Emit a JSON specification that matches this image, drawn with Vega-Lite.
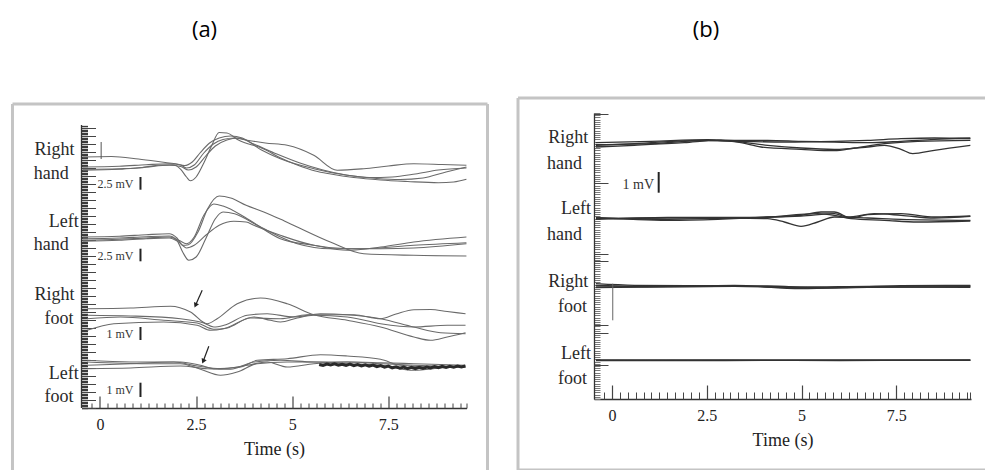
{
"$schema": "https://vega.github.io/schema/vega-lite/v6.json",
"background": "white",
"padding": {"left": 10.5, "top": 18, "right": 0, "bottom": 0},
"spacing": 26.5,
"datasets": {
"tracesA": [
{"tr":"RH1","t":-0.45,"v":238.7},{"tr":"RH1","t":0.5,"v":239.3},{"tr":"RH1","t":1.0,"v":240},{"tr":"RH1","t":1.5,"v":242.7},{"tr":"RH1","t":1.9,"v":243.3},{"tr":"RH1","t":2.1,"v":238.7},{"tr":"RH1","t":2.25,"v":231},{"tr":"RH1","t":2.35,"v":227.3},{"tr":"RH1","t":2.5,"v":231},{"tr":"RH1","t":2.7,"v":245},{"tr":"RH1","t":2.9,"v":262},{"tr":"RH1","t":3.1,"v":275.5},{"tr":"RH1","t":3.3,"v":275},{"tr":"RH1","t":3.6,"v":268},{"tr":"RH1","t":4.26,"v":259},{"tr":"RH1","t":4.7,"v":250},{"tr":"RH1","t":5.13,"v":243},{"tr":"RH1","t":5.6,"v":237},{"tr":"RH1","t":6.0,"v":234},{"tr":"RH1","t":6.6,"v":230.5},{"tr":"RH1","t":7.3,"v":228},{"tr":"RH1","t":8.0,"v":226.5},{"tr":"RH1","t":8.8,"v":225.3},{"tr":"RH1","t":9.2,"v":226},{"tr":"RH1","t":9.53,"v":228.7},
{"tr":"RH2","t":-0.45,"v":251},{"tr":"RH2","t":0.3,"v":251.5},{"tr":"RH2","t":1.0,"v":249},{"tr":"RH2","t":1.7,"v":245.5},{"tr":"RH2","t":2.0,"v":244},{"tr":"RH2","t":2.2,"v":242.5},{"tr":"RH2","t":2.4,"v":246},{"tr":"RH2","t":2.6,"v":255},{"tr":"RH2","t":2.85,"v":265},{"tr":"RH2","t":3.1,"v":270},{"tr":"RH2","t":3.4,"v":272},{"tr":"RH2","t":3.7,"v":270},{"tr":"RH2","t":4.2,"v":258},{"tr":"RH2","t":4.69,"v":249.3},{"tr":"RH2","t":5.56,"v":239.3},{"tr":"RH2","t":6.43,"v":232.7},{"tr":"RH2","t":7.2,"v":229.5},{"tr":"RH2","t":7.8,"v":228.5},{"tr":"RH2","t":8.4,"v":230},{"tr":"RH2","t":9.0,"v":236},{"tr":"RH2","t":9.53,"v":241},
{"tr":"RH3","t":-0.45,"v":241},{"tr":"RH3","t":0.5,"v":241.7},{"tr":"RH3","t":1.2,"v":243.3},{"tr":"RH3","t":1.8,"v":244.3},{"tr":"RH3","t":2.1,"v":243},{"tr":"RH3","t":2.25,"v":240},{"tr":"RH3","t":2.45,"v":243},{"tr":"RH3","t":2.7,"v":255},{"tr":"RH3","t":2.95,"v":264},{"tr":"RH3","t":3.2,"v":268.5},{"tr":"RH3","t":3.5,"v":270},{"tr":"RH3","t":3.8,"v":268},{"tr":"RH3","t":4.3,"v":265},{"tr":"RH3","t":4.87,"v":262.7},{"tr":"RH3","t":5.56,"v":252.7},{"tr":"RH3","t":6.17,"v":237.7},{"tr":"RH3","t":6.86,"v":239.3},{"tr":"RH3","t":7.5,"v":242},{"tr":"RH3","t":8.16,"v":244.3},{"tr":"RH3","t":8.9,"v":243.5},{"tr":"RH3","t":9.53,"v":242.7},
{"tr":"RH4","t":-0.45,"v":237.7},{"tr":"RH4","t":0.5,"v":238.7},{"tr":"RH4","t":1.2,"v":241},{"tr":"RH4","t":1.8,"v":242.7},{"tr":"RH4","t":2.1,"v":241.5},{"tr":"RH4","t":2.3,"v":238},{"tr":"RH4","t":2.5,"v":241},{"tr":"RH4","t":2.75,"v":252},{"tr":"RH4","t":3.0,"v":262},{"tr":"RH4","t":3.3,"v":268},{"tr":"RH4","t":3.6,"v":270},{"tr":"RH4","t":4.0,"v":264},{"tr":"RH4","t":4.6,"v":254},{"tr":"RH4","t":5.2,"v":245},{"tr":"RH4","t":5.8,"v":238},{"tr":"RH4","t":6.4,"v":233},{"tr":"RH4","t":7.0,"v":230.5},{"tr":"RH4","t":7.6,"v":231},{"tr":"RH4","t":8.2,"v":234},{"tr":"RH4","t":8.8,"v":238},{"tr":"RH4","t":9.53,"v":240},
{"tr":"LH1","t":-0.45,"v":171},{"tr":"LH1","t":0.5,"v":171.7},{"tr":"LH1","t":1.2,"v":173.3},{"tr":"LH1","t":1.8,"v":174.3},{"tr":"LH1","t":2.0,"v":170},{"tr":"LH1","t":2.15,"v":162.7},{"tr":"LH1","t":2.3,"v":163.3},{"tr":"LH1","t":2.55,"v":176},{"tr":"LH1","t":2.8,"v":199.3},{"tr":"LH1","t":3.1,"v":212},{"tr":"LH1","t":3.4,"v":210},{"tr":"LH1","t":3.8,"v":202.7},{"tr":"LH1","t":4.26,"v":196},{"tr":"LH1","t":4.7,"v":188.7},{"tr":"LH1","t":5.13,"v":181},{"tr":"LH1","t":5.99,"v":166},{"tr":"LH1","t":6.86,"v":154.3},{"tr":"LH1","t":8.16,"v":152.7},{"tr":"LH1","t":9.53,"v":152},
{"tr":"LH2","t":-0.45,"v":167.7},{"tr":"LH2","t":0.5,"v":168.7},{"tr":"LH2","t":1.2,"v":170},{"tr":"LH2","t":1.8,"v":171},{"tr":"LH2","t":2.05,"v":167.7},{"tr":"LH2","t":2.25,"v":164.3},{"tr":"LH2","t":2.45,"v":171},{"tr":"LH2","t":2.7,"v":192.7},{"tr":"LH2","t":2.96,"v":204},{"tr":"LH2","t":3.2,"v":202},{"tr":"LH2","t":3.83,"v":189.3},{"tr":"LH2","t":4.69,"v":169.3},{"tr":"LH2","t":5.56,"v":162.7},{"tr":"LH2","t":6.43,"v":157.7},{"tr":"LH2","t":7.3,"v":161},{"tr":"LH2","t":8.16,"v":166},{"tr":"LH2","t":9.53,"v":171},
{"tr":"LH3","t":-0.45,"v":169.3},{"tr":"LH3","t":0.5,"v":170},{"tr":"LH3","t":1.2,"v":171.3},{"tr":"LH3","t":1.8,"v":172},{"tr":"LH3","t":2.0,"v":167.7},{"tr":"LH3","t":2.15,"v":156},{"tr":"LH3","t":2.31,"v":147.7},{"tr":"LH3","t":2.5,"v":151},{"tr":"LH3","t":2.75,"v":169.3},{"tr":"LH3","t":3.0,"v":189.3},{"tr":"LH3","t":3.2,"v":196},{"tr":"LH3","t":3.5,"v":194.3},{"tr":"LH3","t":4.09,"v":182.7},{"tr":"LH3","t":5.13,"v":164.3},{"tr":"LH3","t":5.99,"v":159.3},{"tr":"LH3","t":6.86,"v":159.3},{"tr":"LH3","t":8.16,"v":162.7},{"tr":"LH3","t":9.53,"v":165.3},
{"tr":"LH4","t":-0.45,"v":166.7},{"tr":"LH4","t":0.5,"v":167.7},{"tr":"LH4","t":1.2,"v":169.3},{"tr":"LH4","t":1.8,"v":170},{"tr":"LH4","t":2.05,"v":166},{"tr":"LH4","t":2.25,"v":160},{"tr":"LH4","t":2.45,"v":162.7},{"tr":"LH4","t":2.75,"v":172.7},{"tr":"LH4","t":3.1,"v":182.7},{"tr":"LH4","t":3.48,"v":186.7},{"tr":"LH4","t":3.8,"v":186},{"tr":"LH4","t":4.0,"v":182.7},{"tr":"LH4","t":4.69,"v":172.7},{"tr":"LH4","t":5.56,"v":162.7},{"tr":"LH4","t":6.43,"v":159.3},{"tr":"LH4","t":7.3,"v":159.3},{"tr":"LH4","t":8.16,"v":160},{"tr":"LH4","t":9.53,"v":164.3},
{"tr":"RF1","t":-0.334,"v":99.3},{"tr":"RF1","t":0.793,"v":100},{"tr":"RF1","t":1.834,"v":101.7},{"tr":"RF1","t":2.354,"v":96},{"tr":"RF1","t":2.787,"v":84.3},{"tr":"RF1","t":3.047,"v":89.3},{"tr":"RF1","t":3.568,"v":104.3},{"tr":"RF1","t":4.174,"v":110},{"tr":"RF1","t":4.868,"v":104.3},{"tr":"RF1","t":5.561,"v":93.3},{"tr":"RF1","t":6.43,"v":87.7},{"tr":"RF1","t":7.296,"v":81},{"tr":"RF1","t":8.163,"v":71},{"tr":"RF1","t":8.597,"v":67.7},{"tr":"RF1","t":9.03,"v":71},{"tr":"RF1","t":9.507,"v":75.3},
{"tr":"RF2","t":-0.334,"v":92.7},{"tr":"RF2","t":0.793,"v":92},{"tr":"RF2","t":2.093,"v":89.3},{"tr":"RF2","t":2.7,"v":85},{"tr":"RF2","t":2.96,"v":81},{"tr":"RF2","t":3.221,"v":82.7},{"tr":"RF2","t":3.827,"v":92.7},{"tr":"RF2","t":4.348,"v":94.3},{"tr":"RF2","t":5.041,"v":91},{"tr":"RF2","t":5.735,"v":94.3},{"tr":"RF2","t":6.43,"v":93.3},{"tr":"RF2","t":7.296,"v":89.3},{"tr":"RF2","t":8.163,"v":81},{"tr":"RF2","t":8.857,"v":75.3},{"tr":"RF2","t":9.507,"v":74.3},
{"tr":"RF3","t":-0.334,"v":89.3},{"tr":"RF3","t":0.533,"v":91},{"tr":"RF3","t":1.66,"v":87.7},{"tr":"RF3","t":2.527,"v":85},{"tr":"RF3","t":2.96,"v":78.7},{"tr":"RF3","t":3.307,"v":80},{"tr":"RF3","t":3.914,"v":90},{"tr":"RF3","t":4.694,"v":89.3},{"tr":"RF3","t":5.388,"v":93.3},{"tr":"RF3","t":5.995,"v":93.3},{"tr":"RF3","t":6.603,"v":93.3},{"tr":"RF3","t":7.296,"v":89.3},{"tr":"RF3","t":7.7,"v":94},{"tr":"RF3","t":8.163,"v":98.3},{"tr":"RF3","t":8.6,"v":98.5},{"tr":"RF3","t":9.03,"v":96.5},{"tr":"RF3","t":9.507,"v":94.3},
{"tr":"RF4","t":-0.334,"v":77.7},{"tr":"RF4","t":0.36,"v":84.3},{"tr":"RF4","t":1.66,"v":86},{"tr":"RF4","t":2.527,"v":82.7},{"tr":"RF4","t":2.874,"v":77.7},{"tr":"RF4","t":3.221,"v":79.3},{"tr":"RF4","t":4.0,"v":91},{"tr":"RF4","t":4.434,"v":87.7},{"tr":"RF4","t":4.694,"v":86},{"tr":"RF4","t":5.128,"v":90},{"tr":"RF4","t":5.561,"v":92.7},{"tr":"RF4","t":6.43,"v":91},{"tr":"RF4","t":7.296,"v":84.3},{"tr":"RF4","t":8.163,"v":81},{"tr":"RF4","t":9.03,"v":82.7},{"tr":"RF4","t":9.507,"v":82.7},
{"tr":"LF1","t":-0.334,"v":47.7},{"tr":"LF1","t":0.793,"v":46},{"tr":"LF1","t":2.093,"v":46},{"tr":"LF1","t":2.614,"v":42.7},{"tr":"LF1","t":2.96,"v":39.3},{"tr":"LF1","t":3.654,"v":41},{"tr":"LF1","t":4.088,"v":47.7},{"tr":"LF1","t":4.868,"v":49.3},{"tr":"LF1","t":5.735,"v":53.3},{"tr":"LF1","t":6.43,"v":52},{"tr":"LF1","t":7.296,"v":48.7},{"tr":"LF1","t":7.816,"v":42.7},{"tr":"LF1","t":8.597,"v":41},{"tr":"LF1","t":9.507,"v":41},
{"tr":"LF2","t":-0.334,"v":46},{"tr":"LF2","t":1.226,"v":44.3},{"tr":"LF2","t":2.093,"v":44.3},{"tr":"LF2","t":2.614,"v":38.7},{"tr":"LF2","t":3.134,"v":32.7},{"tr":"LF2","t":3.568,"v":36},{"tr":"LF2","t":4.088,"v":44.3},{"tr":"LF2","t":4.868,"v":46},{"tr":"LF2","t":5.561,"v":46},{"tr":"LF2","t":6.43,"v":44.3},{"tr":"LF2","t":7.296,"v":42.7},{"tr":"LF2","t":8.163,"v":37.7},{"tr":"LF2","t":8.857,"v":40},{"tr":"LF2","t":9.507,"v":42},
{"tr":"LF3","t":-0.334,"v":42.7},{"tr":"LF3","t":0.793,"v":44.3},{"tr":"LF3","t":1.92,"v":46},{"tr":"LF3","t":2.527,"v":42},{"tr":"LF3","t":3.134,"v":39.3},{"tr":"LF3","t":3.827,"v":42.7},{"tr":"LF3","t":4.348,"v":46},{"tr":"LF3","t":4.868,"v":41},{"tr":"LF3","t":5.561,"v":44.3},{"tr":"LF3","t":6.43,"v":46},{"tr":"LF3","t":7.296,"v":44.3},{"tr":"LF3","t":8.163,"v":42.7},{"tr":"LF3","t":9.507,"v":41},
{"tr":"LF4","t":-0.334,"v":39.3},{"tr":"LF4","t":0.793,"v":40},{"tr":"LF4","t":2.093,"v":42},{"tr":"LF4","t":2.787,"v":39.3},{"tr":"LF4","t":3.394,"v":38.7},{"tr":"LF4","t":4.0,"v":46},{"tr":"LF4","t":4.694,"v":47.7},{"tr":"LF4","t":5.561,"v":46},{"tr":"LF4","t":6.43,"v":46},{"tr":"LF4","t":7.296,"v":45.3},{"tr":"LF4","t":8.163,"v":44.3},{"tr":"LF4","t":9.507,"v":42.7}
],
"noiseA": [
{"t":5.7,"v":43.5},{"t":5.8,"v":42.5},{"t":5.9,"v":44},{"t":6.0,"v":43},{"t":6.1,"v":44.2},{"t":6.2,"v":42.8},{"t":6.3,"v":43.8},{"t":6.4,"v":42.6},{"t":6.5,"v":43.9},{"t":6.6,"v":42.4},{"t":6.7,"v":43.5},{"t":6.8,"v":42},{"t":6.9,"v":43.2},{"t":7.0,"v":41.8},{"t":7.1,"v":42.9},{"t":7.2,"v":41.3},{"t":7.3,"v":42.4},{"t":7.4,"v":40.8},{"t":7.5,"v":41.9},{"t":7.6,"v":40.2},{"t":7.7,"v":41.2},{"t":7.8,"v":39.8},{"t":7.9,"v":40.9},{"t":8.0,"v":39.4},{"t":8.1,"v":40.6},{"t":8.2,"v":39.3},{"t":8.3,"v":40.7},{"t":8.4,"v":39.6},{"t":8.5,"v":41},{"t":8.6,"v":40},{"t":8.7,"v":41.4},{"t":8.8,"v":40.3},{"t":8.9,"v":41.6},{"t":9.0,"v":40.6},{"t":9.1,"v":41.8},{"t":9.2,"v":40.9},{"t":9.3,"v":42},{"t":9.4,"v":41},{"t":9.5,"v":42}
],
"tracesB": [
{"tr":"RH1","t":-0.422,"v":253.7},{"tr":"RH1","t":0.589,"v":255.3},{"tr":"RH1","t":2.348,"v":258.7},{"tr":"RH1","t":3.228,"v":257.7},{"tr":"RH1","t":4.107,"v":253.7},{"tr":"RH1","t":4.987,"v":251},{"tr":"RH1","t":5.866,"v":249.7},{"tr":"RH1","t":6.746,"v":252},{"tr":"RH1","t":7.185,"v":253.7},{"tr":"RH1","t":7.625,"v":249.7},{"tr":"RH1","t":7.933,"v":245.3},{"tr":"RH1","t":8.505,"v":248.7},{"tr":"RH1","t":9.455,"v":253.7},
{"tr":"RH2","t":-0.422,"v":256.3},{"tr":"RH2","t":1.029,"v":257.7},{"tr":"RH2","t":2.524,"v":259.3},{"tr":"RH2","t":3.228,"v":258.7},{"tr":"RH2","t":4.107,"v":258.7},{"tr":"RH2","t":4.987,"v":257.7},{"tr":"RH2","t":5.866,"v":257},{"tr":"RH2","t":6.746,"v":256.3},{"tr":"RH2","t":7.625,"v":257.7},{"tr":"RH2","t":8.505,"v":259.7},{"tr":"RH2","t":9.455,"v":261},
{"tr":"RH3","t":-0.422,"v":254.3},{"tr":"RH3","t":1.029,"v":255.3},{"tr":"RH3","t":2.524,"v":258.7},{"tr":"RH3","t":3.404,"v":257.7},{"tr":"RH3","t":4.547,"v":257},{"tr":"RH3","t":5.866,"v":257.7},{"tr":"RH3","t":6.746,"v":258.7},{"tr":"RH3","t":7.625,"v":260.3},{"tr":"RH3","t":8.505,"v":261},{"tr":"RH3","t":9.455,"v":260.3},
{"tr":"RH4","t":-0.422,"v":252},{"tr":"RH4","t":0.589,"v":253.7},{"tr":"RH4","t":1.908,"v":256.3},{"tr":"RH4","t":2.788,"v":258.7},{"tr":"RH4","t":3.404,"v":256.3},{"tr":"RH4","t":3.931,"v":252},{"tr":"RH4","t":4.987,"v":249.7},{"tr":"RH4","t":5.866,"v":248.3},{"tr":"RH4","t":6.394,"v":251},{"tr":"RH4","t":7.185,"v":255.3},{"tr":"RH4","t":8.065,"v":257.7},{"tr":"RH4","t":9.455,"v":258.7},
{"tr":"LH1","t":-0.422,"v":181},{"tr":"LH1","t":1.469,"v":179.7},{"tr":"LH1","t":3.228,"v":181},{"tr":"LH1","t":4.107,"v":180.3},{"tr":"LH1","t":4.547,"v":177},{"tr":"LH1","t":4.987,"v":172.7},{"tr":"LH1","t":5.427,"v":177},{"tr":"LH1","t":5.866,"v":182},{"tr":"LH1","t":6.746,"v":181},{"tr":"LH1","t":7.625,"v":179.7},{"tr":"LH1","t":9.455,"v":178.7},
{"tr":"LH2","t":-0.422,"v":180.3},{"tr":"LH2","t":1.469,"v":181},{"tr":"LH2","t":3.228,"v":181},{"tr":"LH2","t":4.987,"v":183.7},{"tr":"LH2","t":5.515,"v":187},{"tr":"LH2","t":5.866,"v":187},{"tr":"LH2","t":6.306,"v":181},{"tr":"LH2","t":6.746,"v":184.3},{"tr":"LH2","t":7.625,"v":185.3},{"tr":"LH2","t":8.505,"v":182},{"tr":"LH2","t":9.455,"v":183},
{"tr":"LH3","t":-0.422,"v":181.7},{"tr":"LH3","t":1.469,"v":178.7},{"tr":"LH3","t":2.788,"v":179.7},{"tr":"LH3","t":4.107,"v":182},{"tr":"LH3","t":5.427,"v":185.3},{"tr":"LH3","t":5.866,"v":183.7},{"tr":"LH3","t":6.306,"v":180.3},{"tr":"LH3","t":7.185,"v":178.7},{"tr":"LH3","t":8.065,"v":177},{"tr":"LH3","t":9.455,"v":178},
{"tr":"LH4","t":-0.422,"v":179.7},{"tr":"LH4","t":1.469,"v":181.7},{"tr":"LH4","t":3.228,"v":181.7},{"tr":"LH4","t":4.987,"v":183},{"tr":"LH4","t":5.866,"v":185.3},{"tr":"LH4","t":6.218,"v":182},{"tr":"LH4","t":6.922,"v":185.3},{"tr":"LH4","t":7.625,"v":183.7},{"tr":"LH4","t":8.505,"v":181},{"tr":"LH4","t":9.455,"v":182.7},
{"tr":"RF1","t":-0.422,"v":115.3},{"tr":"RF1","t":0.589,"v":113.7},{"tr":"RF1","t":3.228,"v":113},{"tr":"RF1","t":4.987,"v":112},{"tr":"RF1","t":6.746,"v":112.7},{"tr":"RF1","t":9.455,"v":113},
{"tr":"RF2","t":-0.422,"v":112},{"tr":"RF2","t":1.469,"v":112.7},{"tr":"RF2","t":3.228,"v":113.7},{"tr":"RF2","t":4.987,"v":110.3},{"tr":"RF2","t":6.746,"v":111.7},{"tr":"RF2","t":9.455,"v":112.3},
{"tr":"RF3","t":-0.422,"v":113.7},{"tr":"RF3","t":1.469,"v":112.3},{"tr":"RF3","t":4.107,"v":113},{"tr":"RF3","t":5.427,"v":111},{"tr":"RF3","t":7.625,"v":113.3},{"tr":"RF3","t":9.455,"v":113.7},
{"tr":"RF4","t":-0.422,"v":111.3},{"tr":"RF4","t":1.029,"v":112},{"tr":"RF4","t":3.228,"v":112.7},{"tr":"RF4","t":4.987,"v":111.3},{"tr":"RF4","t":7.185,"v":112},{"tr":"RF4","t":9.455,"v":111.7},
{"tr":"LF1","t":-0.422,"v":38.7},{"tr":"LF1","t":3.0,"v":38.9},{"tr":"LF1","t":6.0,"v":38.5},{"tr":"LF1","t":9.455,"v":39},
{"tr":"LF2","t":-0.422,"v":38.3},{"tr":"LF2","t":3.0,"v":38.5},{"tr":"LF2","t":6.0,"v":38.9},{"tr":"LF2","t":9.455,"v":38.6},
{"tr":"LF3","t":-0.422,"v":39.2},{"tr":"LF3","t":4.5,"v":38.8},{"tr":"LF3","t":9.455,"v":38.9}
],
"labelsA": [
{"t":-0.663,"v":258,"txt":"Right"},{"t":-0.811,"v":234.3,"txt":"hand"},{"t":-0.551,"v":186,"txt":"Left"},{"t":-0.811,"v":163,"txt":"hand"},{"t":-0.663,"v":113.3,"txt":"Right"},{"t":-0.689,"v":89.3,"txt":"foot"},{"t":-0.551,"v":34.3,"txt":"Left"},{"t":-0.689,"v":11,"txt":"foot"}
],
"labelsB": [
{"t":-0.625,"v":261,"txt":"Right"},{"t":-0.792,"v":235.3,"txt":"hand"},{"t":-0.554,"v":189.7,"txt":"Left"},{"t":-0.792,"v":164.3,"txt":"hand"},{"t":-0.625,"v":117,"txt":"Right"},{"t":-0.66,"v":92,"txt":"foot"},{"t":-0.554,"v":45.3,"txt":"Left"},{"t":-0.66,"v":20.3,"txt":"foot"}
],
"barsA": [
{"t":1.053,"v1":231,"v2":218.3},{"t":1.053,"v1":159.3,"v2":146.7},{"t":1.053,"v1":81,"v2":68},{"t":1.053,"v1":25.3,"v2":11}
],
"barTextA": [
{"t":0.87,"v":224.3,"txt":"2.5 mV"},{"t":0.87,"v":152,"txt":"2.5 mV"},{"t":0.87,"v":74.3,"txt":"1 mV"},{"t":0.87,"v":18,"txt":"1 mV"}
],
"barsB": [{"t":1.232,"v1":227,"v2":206.3}],
"barTextB": [{"t":1.108,"v":214.3,"txt":"1 mV"}],
"stimA": [{"t":0.03,"v1":266,"v2":249}],
"stimB": [{"t":0.02,"v1":115.3,"v2":78.7}],
"yaxisA": [{"t":-0.481,"v1":0,"v2":283}],
"arrowsA": [{"tt":2.658,"tv":117.7,"ht":2.484,"hv":102.7},{"tt":2.83,"tv":61.7,"ht":2.684,"hv":46.7}],
"frameA": [
{"t1":-2.276,"t2":-2.276,"v1":-64,"v2":304},{"t1":-2.276,"t2":10.078,"v1":304,"v2":304},{"t1":10.078,"t2":10.078,"v1":-64,"v2":304}
],
"frameB": [
{"t1":-2.48,"t2":-2.48,"v1":-71,"v2":301},{"t1":-2.48,"t2":9.855,"v1":301,"v2":301},{"t1":-2.48,"t2":9.855,"v1":-71,"v2":-71}
]
},
"hconcat": [
{
"width": 385, "height": 295,
"title": {"text": "(a)", "frame": "group", "anchor": "middle", "dx": -69.5, "offset": 61},
"resolve": {"axis": {"x": "independent", "y": "independent"}},
"layer": [
{"data": {"name": "frameA"}, "mark": {"type": "rule", "color": "#c4c4c4", "strokeWidth": 3},
 "encoding": {
  "x": {"field": "t1", "type": "quantitative", "scale": {"domain": [-0.481, 9.532], "nice": false, "zero": false}, "axis": null},
  "x2": {"field": "t2"},
  "y": {"field": "v1", "type": "quantitative", "scale": {"domain": [0, 295], "nice": false, "zero": false}, "axis": null},
  "y2": {"field": "v2"}}},
{"data": {"name": "yaxisA"}, "mark": {"type": "rule", "color": "#333", "strokeWidth": 1.3},
 "encoding": {
  "x": {"field": "t", "type": "quantitative", "scale": {"domain": [-0.481, 9.532], "nice": false, "zero": false}, "axis": null},
  "y": {"field": "v1", "type": "quantitative", "scale": {"domain": [0, 295], "nice": false, "zero": false}, "axis": null},
  "y2": {"field": "v2"}}},
{"data": {"name": "tracesA"}, "mark": {"type": "line", "interpolate": "monotone", "color": "#6a6a6a", "strokeWidth": 1.1},
 "encoding": {
  "x": {"field": "t", "type": "quantitative", "scale": {"domain": [-0.481, 9.532], "nice": false, "zero": false},
   "axis": {"orient": "bottom", "values": [0, 2.5, 5, 7.5], "format": ".1~f", "ticks": false, "tickSize": 0, "domain": true, "domainWidth": 1.3, "labelFontSize": 16, "labelPadding": 8, "title": "Time (s)", "titleFontSize": 18, "titlePadding": 8}},
  "y": {"field": "v", "type": "quantitative", "scale": {"domain": [0, 295], "nice": false, "zero": false},
   "axis": {"orient": "left", "values": [0,1.6,3.2,4.8,6.4,8,9.6,11.2,12.8,14.4,16,17.6,19.2,20.8,22.4,24,25.6,27.2,28.8,30.4,32,33.6,35.2,36.8,38.4,40,41.6,43.2,44.8,46.4,48,49.6,51.2,52.8,54.4,56,57.6,59.2,60.8,62.4,64,65.6,67.2,68.8,70.4,72,73.6,75.2,76.8,78.4,80,81.6,83.2,84.8,86.4,88,89.6,91.2,92.8,94.4,96,97.6,99.2,100.8,102.4,104,105.6,107.2,108.8,110.4,112,113.6,115.2,116.8,118.4,120,121.6,123.2,124.8,126.4,128,129.6,131.2,132.8,134.4,136,137.6,139.2,140.8,142.4,144,145.6,147.2,148.8,150.4,152,153.6,155.2,156.8,158.4,160,161.6,163.2,164.8,166.4,168,169.6,171.2,172.8,174.4,176,177.6,179.2,180.8,182.4,184,185.6,187.2,188.8,190.4,192,193.6,195.2,196.8,198.4,200,201.6,203.2,204.8,206.4,208,209.6,211.2,212.8,214.4,216,217.6,219.2,220.8,222.4,224,225.6,227.2,228.8,230.4,232,233.6,235.2,236.8,238.4,240,241.6,243.2,244.8,246.4,248,249.6,251.2,252.8,254.4,256,257.6,259.2,260.8,262.4,264,265.6,267.2,268.8,270.4,272,273.6,275.2,276.8,278.4,280,281.6], "tickSize": -6, "tickWidth": 1.3, "tickColor": "#3a3a3a", "domain": false, "labels": false, "title": null}},
  "detail": {"field": "tr", "type": "nominal"}}},
{"data": {"name": "noiseA"}, "mark": {"type": "line", "color": "#2a2a2a", "strokeWidth": 3},
 "encoding": {
  "x": {"field": "t", "type": "quantitative", "scale": {"domain": [-0.481, 9.532], "nice": false, "zero": false}, "axis": null},
  "y": {"field": "v", "type": "quantitative", "scale": {"domain": [0, 295], "nice": false, "zero": false}, "axis": null}}},
{"data": {"name": "labelsA"}, "mark": {"type": "text", "align": "right", "baseline": "middle", "font": "Liberation Serif", "fontSize": 18, "color": "#2a2a2a"},
 "encoding": {
  "x": {"field": "t", "type": "quantitative", "scale": {"domain": [-0.481, 9.532], "nice": false, "zero": false},
   "axis": {"orient": "bottom", "values": [0, 2.5, 5, 7.5], "tickSize": -12, "tickWidth": 1.2, "labels": false, "domain": false, "title": null}},
  "y": {"field": "v", "type": "quantitative", "scale": {"domain": [0, 295], "nice": false, "zero": false},
   "axis": {"orient": "left", "values": [0,8,16,24,32,40,48,56,64,72,80,88,96,104,112,120,128,136,144,152,160,168,176,184,192,200,208,216,224,232,240,248,256,264,272,280], "tickSize": -14, "labels": false, "domain": false, "title": null}},
  "text": {"field": "txt"}}},
{"data": {"name": "barsA"}, "mark": {"type": "rule", "color": "#222", "strokeWidth": 2},
 "encoding": {
  "x": {"field": "t", "type": "quantitative", "scale": {"domain": [-0.481, 9.532], "nice": false, "zero": false},
   "axis": {"orient": "bottom", "values": [-0.208,0.208,0.417,0.625,0.833,1.042,1.25,1.458,1.667,1.875,2.083,2.292,2.708,2.917,3.125,3.333,3.542,3.75,3.958,4.167,4.375,4.583,4.792,5.208,5.417,5.625,5.833,6.042,6.25,6.458,6.667,6.875,7.083,7.292,7.708,7.917,8.125,8.333,8.542,8.75,8.958,9.167,9.375,9.52], "tickSize": -5, "labels": false, "domain": false, "title": null}},
  "y": {"field": "v1", "type": "quantitative", "scale": {"domain": [0, 295], "nice": false, "zero": false}, "axis": null},
  "y2": {"field": "v2"}}},
{"data": {"name": "barTextA"}, "mark": {"type": "text", "align": "right", "baseline": "middle", "font": "Liberation Serif", "fontSize": 12, "color": "#333"},
 "encoding": {
  "x": {"field": "t", "type": "quantitative", "scale": {"domain": [-0.481, 9.532], "nice": false, "zero": false}, "axis": null},
  "y": {"field": "v", "type": "quantitative", "scale": {"domain": [0, 295], "nice": false, "zero": false}, "axis": null},
  "text": {"field": "txt"}}},
{"data": {"name": "stimA"}, "mark": {"type": "rule", "color": "#555", "strokeWidth": 1},
 "encoding": {
  "x": {"field": "t", "type": "quantitative", "scale": {"domain": [-0.481, 9.532], "nice": false, "zero": false}, "axis": null},
  "y": {"field": "v1", "type": "quantitative", "scale": {"domain": [0, 295], "nice": false, "zero": false}, "axis": null},
  "y2": {"field": "v2"}}},
{"data": {"name": "arrowsA"}, "mark": {"type": "rule", "color": "#222", "strokeWidth": 1.2},
 "encoding": {
  "x": {"field": "tt", "type": "quantitative", "scale": {"domain": [-0.481, 9.532], "nice": false, "zero": false}, "axis": null},
  "y": {"field": "tv", "type": "quantitative", "scale": {"domain": [0, 295], "nice": false, "zero": false}, "axis": null},
  "x2": {"field": "ht"},
  "y2": {"field": "hv"}}},
{"data": {"name": "arrowsA"}, "mark": {"type": "point", "shape": "triangle-down", "filled": true, "color": "#222", "size": 30, "angle": 24, "opacity": 1},
 "encoding": {
  "x": {"field": "ht", "type": "quantitative", "scale": {"domain": [-0.481, 9.532], "nice": false, "zero": false}, "axis": null},
  "y": {"field": "hv", "type": "quantitative", "scale": {"domain": [0, 295], "nice": false, "zero": false}, "axis": null}}}
]
},
{
"width": 377, "height": 286,
"title": {"text": "(b)", "frame": "group", "anchor": "middle", "dx": -76.5, "offset": 55},
"resolve": {"axis": {"x": "independent", "y": "independent"}},
"layer": [
{"data": {"name": "frameB"}, "mark": {"type": "rule", "color": "#c4c4c4", "strokeWidth": 3},
 "encoding": {
  "x": {"field": "t1", "type": "quantitative", "scale": {"domain": [-0.475, 9.472], "nice": false, "zero": false}, "axis": null},
  "x2": {"field": "t2"},
  "y": {"field": "v1", "type": "quantitative", "scale": {"domain": [0, 286], "nice": false, "zero": false}, "axis": null},
  "y2": {"field": "v2"}}},
{"data": {"name": "tracesB"}, "mark": {"type": "line", "interpolate": "monotone", "color": "#333", "strokeWidth": 1.3},
 "encoding": {
  "x": {"field": "t", "type": "quantitative", "scale": {"domain": [-0.475, 9.472], "nice": false, "zero": false},
   "axis": {"orient": "bottom", "values": [0, 2.5, 5, 7.5], "format": ".1~f", "ticks": false, "tickSize": 0, "domain": true, "domainWidth": 1.3, "labelFontSize": 16, "labelPadding": 8, "title": "Time (s)", "titleFontSize": 18, "titlePadding": 8}},
  "y": {"field": "v", "type": "quantitative", "scale": {"domain": [0, 286], "nice": false, "zero": false},
   "axis": {"orient": "left", "values": [0,2.2,4.4,6.6,8.8,11,13.2,15.4,17.6,19.8,22,24.2,26.4,28.6,30.8,33,35.2,37.4,39.6,41.8,44,46.2,48.4,50.6,52.8,55,57.2,59.4,61.6,63.8,66,68.2,70.4,72.6,74.8,77,79.2,81.4,83.6,85.8,88,90.2,92.4,94.6,96.8,99,101.2,103.4,105.6,107.8,110,112.2,114.4,116.6,118.8,121,123.2,125.4,127.6,129.8,132,134.2,136.4,138.6,140.8,143,145.2,147.4,149.6,151.8,154,156.2,158.4,160.6,162.8,165,167.2,169.4,171.6,173.8,176,178.2,180.4,182.6,184.8,187,189.2,191.4,193.6,195.8,198,200.2,202.4,204.6,206.8,209,211.2,213.4,215.6,217.8,220,222.2,224.4,226.6,228.8,231,233.2,235.4,237.6,239.8,242,244.2,246.4,248.6,250.8,253,255.2,257.4,259.6,261.8,264,266.2,268.4,270.6,272.8,275,277.2,279.4,281.6,283.8,286], "tickSize": -6, "tickColor": "#777", "domain": true, "domainWidth": 1.3, "labels": false, "title": null}},
  "detail": {"field": "tr", "type": "nominal"}}},
{"data": {"name": "labelsB"}, "mark": {"type": "text", "align": "right", "baseline": "middle", "font": "Liberation Serif", "fontSize": 18, "color": "#2a2a2a"},
 "encoding": {
  "x": {"field": "t", "type": "quantitative", "scale": {"domain": [-0.475, 9.472], "nice": false, "zero": false},
   "axis": {"orient": "bottom", "values": [0, 2.5, 5, 7.5], "tickSize": -14, "tickWidth": 1.2, "labels": false, "domain": false, "title": null}},
  "y": {"field": "v", "type": "quantitative", "scale": {"domain": [0, 286], "nice": false, "zero": false},
   "axis": {"orient": "left", "values": [285, 216, 145, 138, 74, 66, 34], "tickSize": -14, "labels": false, "domain": false, "title": null}},
  "text": {"field": "txt"}}},
{"data": {"name": "barsB"}, "mark": {"type": "rule", "color": "#222", "strokeWidth": 2},
 "encoding": {
  "x": {"field": "t", "type": "quantitative", "scale": {"domain": [-0.475, 9.472], "nice": false, "zero": false},
   "axis": {"orient": "bottom", "values": [-0.208,0.208,0.417,0.625,0.833,1.042,1.25,1.458,1.667,1.875,2.083,2.292,2.708,2.917,3.125,3.333,3.542,3.75,3.958,4.167,4.375,4.583,4.792,5.208,5.417,5.625,5.833,6.042,6.25,6.458,6.667,6.875,7.083,7.292,7.708,7.917,8.125,8.333,8.542,8.75,8.958,9.167,9.375,9.45], "tickSize": -7, "labels": false, "domain": false, "title": null}},
  "y": {"field": "v1", "type": "quantitative", "scale": {"domain": [0, 286], "nice": false, "zero": false}, "axis": null},
  "y2": {"field": "v2"}}},
{"data": {"name": "barTextB"}, "mark": {"type": "text", "align": "right", "baseline": "middle", "font": "Liberation Serif", "fontSize": 14, "color": "#333"},
 "encoding": {
  "x": {"field": "t", "type": "quantitative", "scale": {"domain": [-0.475, 9.472], "nice": false, "zero": false}, "axis": null},
  "y": {"field": "v", "type": "quantitative", "scale": {"domain": [0, 286], "nice": false, "zero": false}, "axis": null},
  "text": {"field": "txt"}}},
{"data": {"name": "stimB"}, "mark": {"type": "rule", "color": "#666", "strokeWidth": 1},
 "encoding": {
  "x": {"field": "t", "type": "quantitative", "scale": {"domain": [-0.475, 9.472], "nice": false, "zero": false}, "axis": null},
  "y": {"field": "v1", "type": "quantitative", "scale": {"domain": [0, 286], "nice": false, "zero": false}, "axis": null},
  "y2": {"field": "v2"}}}
]
}
],
"config": {
 "view": {"stroke": null},
 "axis": {"grid": false, "labelFont": "Liberation Serif", "titleFont": "Liberation Serif", "titleFontWeight": "normal", "labelColor": "#222", "titleColor": "#222", "tickColor": "#444", "domainColor": "#333"},
 "title": {"font": "Open Sans", "fontSize": 22, "fontWeight": "normal", "color": "#000"}
}
}
